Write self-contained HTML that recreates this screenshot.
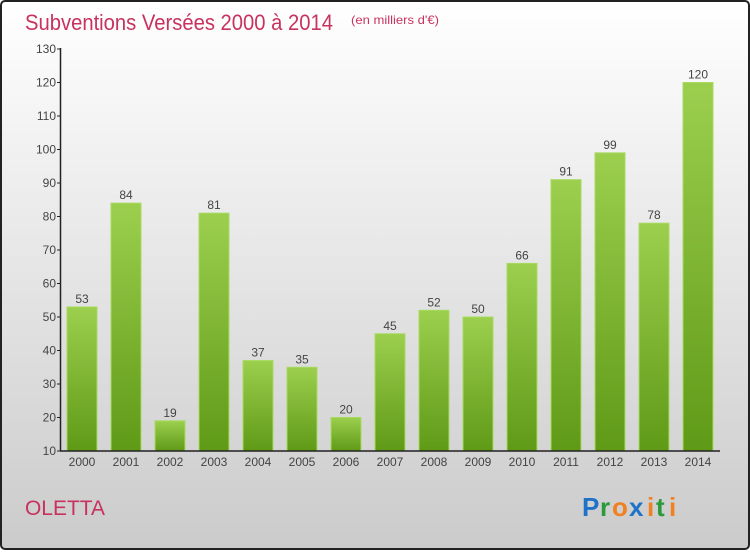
<!DOCTYPE html>
<html><head><meta charset="utf-8"><style>
body{margin:0;width:750px;height:550px;overflow:hidden;font-family:"Liberation Sans",sans-serif}
</style></head><body>
<svg width="750" height="550" xmlns="http://www.w3.org/2000/svg">
<defs>
<linearGradient id="bg" x1="0" y1="0" x2="0" y2="1"><stop offset="0" stop-color="#ffffff"/><stop offset="1" stop-color="#cbcbcb"/></linearGradient>
<linearGradient id="bar" x1="0" y1="0" x2="0" y2="1"><stop offset="0" stop-color="#9ccf4e"/><stop offset="1" stop-color="#5f9a17"/></linearGradient>
</defs>
<rect x="1" y="1" width="748" height="548" rx="4" fill="url(#bg)" stroke="#222" stroke-width="2"/>
<text x="25" y="30" font-size="22" fill="#c8325f" textLength="308" lengthAdjust="spacingAndGlyphs">Subventions Versées 2000 à 2014</text>
<text x="351" y="24" font-size="12" fill="#c8325f" textLength="88" lengthAdjust="spacingAndGlyphs">(en milliers d'€)</text>
<g id="plot"></g>
<text x="25" y="515" font-size="21" fill="#c8325f" textLength="80" lengthAdjust="spacingAndGlyphs">OLETTA</text>
<g font-size="26" font-weight="bold">
<text x="582" y="516" fill="#1e73c8">P</text><text x="600" y="516" fill="#2a9a3a">r</text><text x="612" y="516" fill="#f08020">o</text><text x="629" y="516" fill="#1e73c8">x</text><text x="647" y="516" fill="#f08020">i</text><text x="656" y="516" fill="#2a9a3a">t</text><text x="669" y="516" fill="#f08020">i</text>
</g>
</svg>
<script>
const categories=["2000","2001","2002","2003","2004","2005","2006","2007","2008","2009","2010","2011","2012","2013","2014"];
const values=[53,84,19,81,37,35,20,45,52,50,66,91,99,78,120];
const yTicks=[10,20,30,40,50,60,70,80,90,100,110,120,130];
const NS="http://www.w3.org/2000/svg";
const g=document.getElementById('plot');
const y=v=>451-(v-10)*402/120;
const x=i=>82+i*44;
function el(t,a){const e=document.createElementNS(NS,t);for(const k in a)e.setAttribute(k,a[k]);g.appendChild(e);return e;}
yTicks.forEach(t=>{
  const l=el('line',{x1:57,x2:61,y1:y(t),y2:y(t),stroke:'#222'});
  
  
  const tx=el('text',{x:56,y:y(t)+4,'text-anchor':'end','font-size':12,fill:'#444'});
  tx.textContent=t;
  
  
});
categories.forEach((c,i)=>{
  const v=values[i];
  const r=el('rect',{x:x(i)-15,y:y(v),width:30,height:451-y(v),fill:'url(#bar)',stroke:'#a8da60','stroke-width':1});
  
  
  const vt=el('text',{x:x(i),y:y(v)-4,'text-anchor':'middle','font-size':12,fill:'#444'});
  vt.textContent=v;
  
  
  const ct=el('text',{x:x(i),y:466,'text-anchor':'middle','font-size':12,fill:'#444'});
  ct.textContent=c;
  
  
});
const ya=el('line',{x1:60.5,x2:60.5,y1:48,y2:451,stroke:'#222','stroke-width':1.5});


const xa=el('line',{x1:60,x2:720,y1:451,y2:451,stroke:'#222','stroke-width':1.5});


</script>
</body></html>
